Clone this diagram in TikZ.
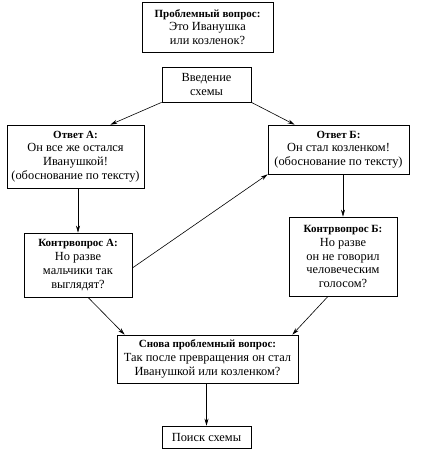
\documentclass[tikz,border=0pt]{standalone}
\usepackage{fontspec}
\setmainfont{Liberation Serif}
\usetikzlibrary{arrows.meta}
\newcommand{\hd}[1]{{\fontsize{11}{13.8}\selectfont\bfseries #1}}
\begin{document}
\begin{tikzpicture}[x=1pt,y=-1pt,
  box/.style={draw, line width=0.7pt, align=center, inner sep=0pt,
    font=\fontsize{12.4}{13.8}\selectfont, anchor=center},
  conn/.style={line width=0.6pt, -{Stealth[length=7pt,width=4pt]}}]
\useasboundingbox (0,0) rectangle (422,450);
\node[box, minimum width=131pt, minimum height=50pt] (b1) at (207.5,27) {\hd{Проблемный вопрос:}\\Это Иванушка\\или козленок?};
\node[box, minimum width=89pt, minimum height=35pt] (b2) at (206.5,84.5) {Введение\\схемы};
\node[box, minimum width=137pt, minimum height=63pt] (a) at (75.5,156.5) {\hd{Ответ А:}\\Он все же остался\\Иванушкой!\\(обоснование по тексту)};
\node[box, minimum width=141pt, minimum height=49pt] (b) at (338.5,149.5) {\hd{Ответ Б:}\\Он стал козленком!\\(обоснование по тексту)};
\node[box, minimum width=108pt, minimum height=64pt] (ca) at (78,265) {\hd{Контрвопрос А:}\\Но разве\\мальчики так\\выглядят?};
\node[box, minimum width=108pt, minimum height=79pt] (cb) at (343,256.5) {\hd{Контрвопрос Б:}\\Но разве\\он не говорил\\человеческим\\голосом?};
\node[box, minimum width=181pt, minimum height=48pt] (s) at (207.5,359) {\hd{Снова проблемный вопрос:}\\Так после превращения он стал\\Иванушкой или козленком?};
\node[box, minimum width=89pt, minimum height=22pt] (p) at (206.5,437) {Поиск схемы};
\draw[conn] (b2.south west) -- ([xshift=-34pt]a.north east);
\draw[conn] (b2.south east) -- ([xshift=27pt]b.north west);
\draw[conn] (a.south -| ca.north) -- (ca.north);
\draw[conn] ([yshift=-3pt]ca.east) -- (b.south west);
\draw[conn] (b.south -| cb.north) -- (cb.north);
\draw[conn] ([xshift=10pt]ca.south) -- ([xshift=8pt]s.north west);
\draw[conn] ([xshift=-15pt]cb.south) -- ([xshift=-6pt]s.north east);
\draw[conn] (s.south -| p.north) -- (p.north);
\end{tikzpicture}
\end{document}
